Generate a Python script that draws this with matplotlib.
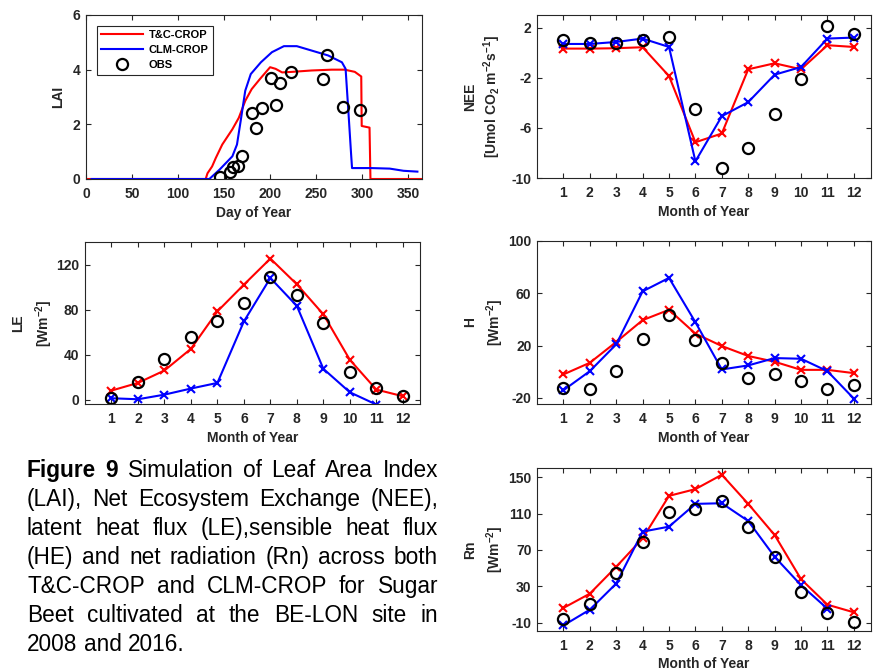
#!/usr/bin/env python

import matplotlib
matplotlib.use("Agg")
import matplotlib.pyplot as plt
from matplotlib.transforms import IdentityTransform
from matplotlib.lines import Line2D
import numpy as np

plt.rcParams["font.family"] = ["Liberation Sans", "DejaVu Sans"]
plt.rcParams["font.weight"] = "bold"
plt.rcParams["axes.labelweight"] = "bold"
plt.rcParams["mathtext.fontset"] = "custom"
plt.rcParams["mathtext.rm"] = "Liberation Sans:bold"
plt.rcParams["mathtext.bf"] = "Liberation Sans:bold"
plt.rcParams["mathtext.default"] = "bf"
plt.rcParams["axes.unicode_minus"] = False

W, H = 874, 671
INK = "#262626"
RED, BLUE = "#ff0000", "#0000ff"

# ---- LAI (daily) ----
tc_doy = [0, 130, 132, 137, 141, 148, 159, 166, 173, 180, 189, 200, 206, 213, 224,
          245, 267, 281, 292, 299, 299.5, 308, 309, 365]
tc_lai = [0, 0, 0.21, 0.46, 0.77, 1.26, 1.82, 2.24, 2.86, 3.29, 3.66, 4.09, 4.03, 3.9,
          3.92, 3.97, 4.0, 4.0, 3.92, 3.75, 1.94, 1.88, 0, 0]
clm_doy = [6, 134, 145, 159, 164, 168, 173, 179, 190, 202, 215, 229, 245, 263, 278,
           282, 285, 288, 289, 310, 330, 345, 360]
clm_lai = [0, 0, 0.34, 0.83, 1.26, 2.12, 3.23, 3.84, 4.27, 4.64, 4.86, 4.86, 4.7, 4.52,
           4.27, 4.03, 2.49, 0.9, 0.4, 0.4, 0.38, 0.3, 0.27]
obs_doy = [146, 156, 160, 165, 170, 180, 185, 191, 201, 206, 211, 223, 257, 262, 279, 298]
obs_lai = [0.08, 0.24, 0.44, 0.47, 0.83, 2.43, 1.87, 2.58, 3.68, 2.69, 3.52, 3.92,
           3.65, 4.55, 2.64, 2.54]

# ---- monthly ----
months = np.arange(1, 13)
nee_tc = [0.32, 0.32, 0.35, 0.43, -1.87, -7.15, -6.45, -1.33, -0.85, -1.33, 0.59, 0.45]
nee_clm = [0.69, 0.69, 0.85, 1.12, 0.45, -8.67, -5.07, -3.95, -1.76, -1.15, 1.12, 1.2]
nee_obs = [1.01, 0.8, 0.77, 0.99, 1.28, -4.48, -9.2, -7.57, -4.88, -2.08, 2.13, 1.52]

le_tc = [8.3, 15.1, 26.1, 45.3, 78.5, 102.2, 125.3, 102.5, 75.9, 35.6, 9.2, 3.3]
le_clm = [1.5, 0.6, 4.7, 10.1, 15.1, 69.6, 108.1, 83.3, 27.6, 6.8, -4.1, np.nan]
le_obs = [1.8, 15.7, 36.4, 55.7, 70.2, 85.9, 109, 93.3, 68.1, 24.6, 11, 3.3]

h_tc = [-2.0, 6.9, 22.8, 39.5, 47.4, 29.2, 19.7, 12.1, 7.7, 1.5, 1.5, -1.0]
h_clm = [-14.1, 0.5, 21, 61.5, 71.8, 37.9, 1.8, 4.9, 10.5, 10, 0.5, -20.5]
h_obs = [-12.3, -12.8, 1.0, 25.1, 43.3, 24.1, 6.9, -4.6, -1.5, -6.7, -12.8, -9.7]

rn_tc = [6.3, 22, 51.5, 82.7, 129.4, 136.8, 152.6, 120.6, 86.4, 37.9, 9.9, 1.5]
rn_clm = [-12.9, 4.4, 33.1, 90.1, 95.6, 120.6, 121.3, 101.8, 62.5, 31.3, 5.5, np.nan]
rn_obs = [-6.3, 10.3, 45.2, 79, 112.1, 115.4, 124.3, 95.6, 62.5, 23.9, 1.1, -9.6]

CAPTION = [
    "Figure 9 Simulation of Leaf Area Index",
    "(LAI), Net Ecosystem Exchange (NEE),",
    "latent heat flux (LE),sensible heat flux",
    "(HE) and net radiation (Rn) across both",
    "T&C-CROP and CLM-CROP for Sugar",
    "Beet cultivated at the BE-LON site in",
    "2008 and 2016.",
]

fig = plt.figure(figsize=(W / 100, H / 100), dpi=100)


def px_axes(l, t, r, b):
    ax = fig.add_axes([l / W, 1 - b / H, (r - l) / W, (b - t) / H])
    for s in ax.spines.values():
        s.set_color(INK)
        s.set_linewidth(0.8)
    ax.tick_params(direction="in", top=True, right=True, length=3.5, width=0.8,
                   colors=INK, labelsize=10, pad=4)
    ax.tick_params(axis="x", pad=6)
    return ax


def ylab(lines, xs, t, b):
    yc = H - (t + b) / 2
    for s, x in zip(lines, xs):
        fig.text(x, yc, s, transform=IdentityTransform(), rotation=90, ha="center",
                 va="center", fontsize=10, weight="bold", color=INK)


def monthly(ax, tc, clm, obs, ylim, yticks):
    ax.plot(months, tc, color=RED, lw=1.5, marker="x", ms=6, mew=1.5)
    ax.plot(months, clm, color=BLUE, lw=1.5, marker="x", ms=6, mew=1.5)
    ax.plot(months, obs, ls="none", marker="o", ms=8, mfc="none", mec="k", mew=1.6)
    ax.set_xlim(0, 12.65)
    ax.set_xticks(months)
    ax.set_ylim(*ylim)
    ax.set_yticks(yticks)
    ax.set_xlabel("Month of Year", fontsize=10, color=INK, labelpad=3)


# LAI
ax = px_axes(86, 15, 422, 179)
ax.plot(tc_doy, tc_lai, color=RED, lw=1.5)
ax.plot(clm_doy, clm_lai, color=BLUE, lw=1.5)
ax.plot(obs_doy, obs_lai, ls="none", marker="o", ms=8, mfc="none", mec="k", mew=1.6)
ax.set_xlim(0, 365)
ax.set_ylim(0, 6)
ax.set_xticks(range(0, 351, 50))
ax.set_yticks([0, 2, 4, 6])
ax.set_xlabel("Day of Year", fontsize=10, color=INK, labelpad=3)
handles = [Line2D([], [], color=RED, lw=1.5), Line2D([], [], color=BLUE, lw=1.5),
           Line2D([], [], ls="none", marker="o", ms=8, mfc="none", mec="k", mew=1.6)]
leg = ax.legend(handles, ["T&C-CROP", "CLM-CROP", "OBS"], loc="upper left",
                bbox_to_anchor=(0.032, 0.935), borderaxespad=0, fontsize=8,
                handlelength=3.8, handletextpad=0.5, labelspacing=0.45,
                fancybox=False, framealpha=1, edgecolor=INK, borderpad=0.4)
leg.get_frame().set_linewidth(0.8)
ylab(["LAI"], [58], 15, 179)

# NEE
ax = px_axes(537, 15, 871, 178)
monthly(ax, nee_tc, nee_clm, nee_obs, (-10, 3), [-10, -6, -2, 2])
ylab(["NEE", r"[Umol CO$_2$ m$^{-2}$s$^{-1}$]"], [470, 492], 15, 178)

# LE
ax = px_axes(85, 242, 420, 404)
monthly(ax, le_tc, le_clm, le_obs, (-3.6, 140), [0, 40, 80, 120])
ylab(["LE", r"[Wm$^{-2}$]"], [18, 44], 242, 404)

# H
ax = px_axes(537, 241, 871, 404)
monthly(ax, h_tc, h_clm, h_obs, (-24.6, 100), [-20, 20, 60, 100])
ylab(["H", r"[Wm$^{-2}$]"], [470, 495], 241, 404)

# Rn
ax = px_axes(537, 468, 871, 631)
monthly(ax, rn_tc, rn_clm, rn_obs, (-19, 160), [-10, 30, 70, 110, 150])
ylab(["Rn", r"[Wm$^{-2}$]"], [470, 495], 468, 631)

# justified caption
renderer = fig.canvas.get_renderer()
x0, x1 = 27, 438
size = 16.3
for i, line in enumerate(CAPTION):
    yb = H - (477 + i * 29)
    words = line.split(" ")
    texts = []
    for j, w in enumerate(words):
        bold = i == 0 and j < 2
        texts.append(fig.text(0, yb, w, transform=IdentityTransform(), fontsize=size,
                              weight="bold" if bold else "normal", color="k",
                              va="baseline", ha="left"))
    widths = [t.get_window_extent(renderer).width for t in texts]
    if i < len(CAPTION) - 1:
        gap = (x1 - x0 - sum(widths)) / (len(words) - 1)
    else:
        gap = 0.278 * size * 100 / 72
    x = x0
    for t, w in zip(texts, widths):
        t.set_x(x)
        x += w + gap

fig.savefig("out.png", dpi=100)
